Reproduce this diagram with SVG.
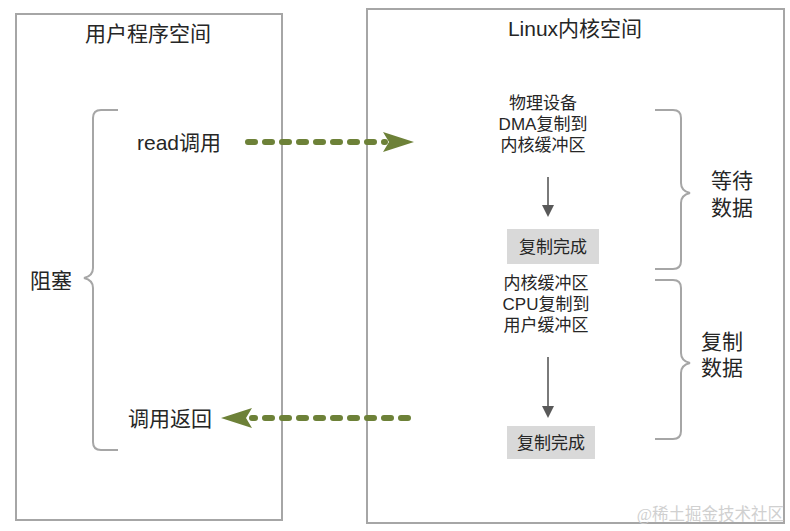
<svg xmlns="http://www.w3.org/2000/svg" width="790" height="531" viewBox="0 0 790 531">
<defs>
<style>
.box{fill:none;stroke:#a6a6a6;stroke-width:2}
.brace{fill:none;stroke:#a6a6a6;stroke-width:2}
.t{font-family:"Liberation Sans","Noto Sans CJK SC",sans-serif;fill:#262626}
.big{font-size:21px}
.mid{font-size:17px}
.dash{fill:none;stroke:#6d8138;stroke-width:6;stroke-linecap:round;stroke-dasharray:7 10}
.head{fill:#6d8138}
.down{stroke:#595959;stroke-width:1.6;fill:none}
.tip{fill:#595959}
.done{fill:#d9d9d9}
.wm{font-family:"Liberation Serif","Noto Sans CJK SC",serif;font-size:16.5px;fill:#d0d0d0}
</style>
</defs>
<rect width="790" height="531" fill="#ffffff"/>
<g id="user-space">
<rect class="box" x="16" y="14" width="266" height="506"/>
<text class="t big" x="148" y="41" text-anchor="middle">用户程序空间</text>
</g>
<g id="kernel-space">
<rect class="box" x="367" y="9" width="417" height="514"/>
<text class="t big" x="575" y="36" text-anchor="middle">Linux内核空间</text>
</g>
<g id="block-brace">
<path class="brace" d="M118,110 H101 Q93,110 93,118 V268 Q93,276 84,278 Q93,280 93,288 V442 Q93,450 101,450 H118"/>
<text class="t big" x="51" y="288" text-anchor="middle">阻塞</text>
</g>
<g id="read-call"><text class="t big" x="179" y="150" text-anchor="middle">read调用</text></g>
<g id="call-return"><text class="t big" x="170" y="426" text-anchor="middle">调用返回</text></g>
<g id="dma-copy">
<text class="t mid" x="543" y="109" text-anchor="middle">物理设备</text>
<text class="t mid" x="543" y="130" text-anchor="middle">DMA复制到</text>
<text class="t mid" x="543" y="151" text-anchor="middle">内核缓冲区</text>
</g>
<g id="done1">
<rect class="done" x="507" y="229" width="92" height="35"/>
<text class="t mid" x="553" y="253" text-anchor="middle">复制完成</text>
</g>
<g id="cpu-copy">
<text class="t mid" x="546" y="289" text-anchor="middle">内核缓冲区</text>
<text class="t mid" x="546" y="310" text-anchor="middle">CPU复制到</text>
<text class="t mid" x="546" y="331" text-anchor="middle">用户缓冲区</text>
</g>
<g id="done2">
<rect class="done" x="507" y="426" width="88" height="33"/>
<text class="t mid" x="551" y="449" text-anchor="middle">复制完成</text>
</g>
<g id="wait-brace">
<path class="brace" d="M655,110 H673 Q681,110 681,118 V183 Q681,191 690,193 Q681,195 681,203 V261 Q681,269 673,269 H655"/>
<text class="t big" x="732" y="188" text-anchor="middle">等待</text>
<text class="t big" x="732" y="215" text-anchor="middle">数据</text>
</g>
<g id="copy-brace">
<path class="brace" d="M655,280 H673 Q681,280 681,288 V353 Q681,361 690,363 Q681,365 681,373 V431 Q681,439 673,439 H655"/>
<text class="t big" x="722" y="349" text-anchor="middle">复制</text>
<text class="t big" x="722" y="375" text-anchor="middle">数据</text>
</g>
<g id="connectors">
<path class="dash" d="M248,142 H385"/>
<path class="head" d="M414,142 L383,132 L389,142 L383,152 Z"/>
<path class="dash" d="M408,418 H252"/>
<path class="head" d="M221,418 L252,408 L246,418 L252,428 Z"/>
<path class="down" d="M548,177 V206"/>
<path class="tip" d="M542,205 L554,205 L548,217 Z"/>
<path class="down" d="M548,357 V407"/>
<path class="tip" d="M542,406 L554,406 L548,418 Z"/>
</g>
<text class="wm" x="784" y="520" text-anchor="end">@稀土掘金技术社区</text>
</svg>
